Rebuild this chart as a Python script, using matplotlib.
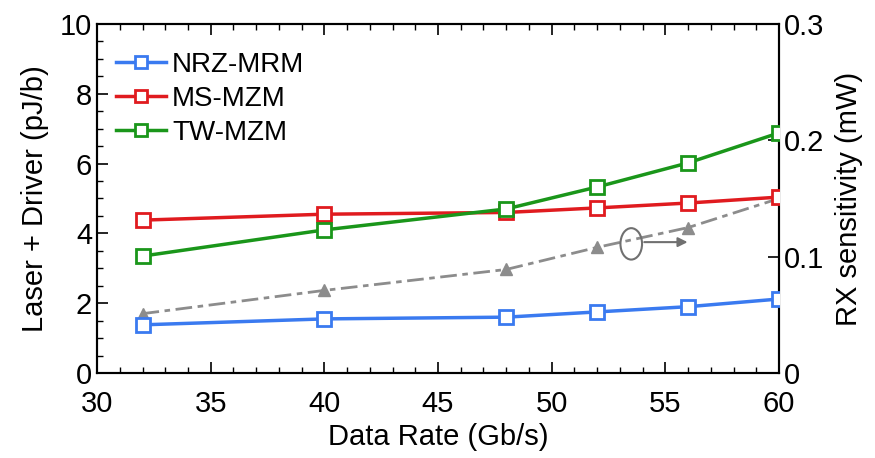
import matplotlib.pyplot as plt
from matplotlib.patches import Ellipse
from matplotlib.ticker import MultipleLocator

plt.rcParams["font.family"] = ["Liberation Sans", "DejaVu Sans"]

rates = [32, 40, 48, 52, 56, 60]
nrz_mrm = [1.38, 1.55, 1.60, 1.75, 1.90, 2.12]
ms_mzm = [4.38, 4.55, 4.60, 4.73, 4.87, 5.04]
tw_mzm = [3.35, 4.10, 4.70, 5.33, 6.02, 6.88]
rx_sens = [0.051, 0.071, 0.089, 0.108, 0.125, 0.150]
rx_ticks = [0, 0.1, 0.2, 0.3]
rx_labels = ["0", "0.1", "0.2", "0.3"]

fig = plt.figure(figsize=(8.75, 4.58), dpi=100)
ax = fig.add_axes([0.1109, 0.1856, 0.7794, 0.762])
ax2 = ax.twinx()

ax2.plot(rates, rx_sens, color="#8c8c8c", lw=2, ls=(0, (6, 2, 2, 2)),
         marker="^", ms=8, zorder=2)

series = [
    ("NRZ-MRM", nrz_mrm, "#3a7af0"),
    ("MS-MZM", ms_mzm, "#e01b1f"),
    ("TW-MZM", tw_mzm, "#1a961a"),
]
for label, vals, col in series:
    ax.plot(rates, vals, color=col, lw=2.5, marker="s", ms=10, mfc="white",
            mec=col, mew=2, label=label, zorder=3)

ax.set_zorder(ax2.get_zorder() + 1)
ax.patch.set_visible(False)

# ellipse + arrow pointing to right axis
ax.add_patch(Ellipse((53.5, 3.7), 0.95, 0.9, fill=False, ec="#707070", lw=1.5))
ax.annotate("", xy=(56.1, 3.75), xytext=(53.95, 3.75),
            arrowprops=dict(arrowstyle="-|>", color="#707070", lw=1.5,
                            mutation_scale=14))

ax.set_xlim(30, 60)
ax.set_ylim(0, 10)
ax2.set_ylim(0, 0.3)
ax.xaxis.set_major_locator(MultipleLocator(5))
ax.xaxis.set_minor_locator(MultipleLocator(1))
ax.yaxis.set_major_locator(MultipleLocator(2))
ax.yaxis.set_minor_locator(MultipleLocator(0.5))
ax2.set_yticks(rx_ticks)
ax2.set_yticklabels(rx_labels)

ax.tick_params(which="both", direction="in", top=True, labelsize=21)
ax.tick_params(axis="x", pad=12)
ax.tick_params(which="major", length=8, width=1.2)
ax.tick_params(which="minor", length=4, width=1)
ax2.tick_params(which="both", direction="in", labelsize=21)
ax2.tick_params(which="major", length=8, width=1.2)

for a in (ax, ax2):
    for s in a.spines.values():
        s.set_linewidth(1.5)

ax.set_xlabel("Data Rate (Gb/s)", fontsize=21, labelpad=4)
ax.set_ylabel("Laser + Driver (pJ/b)", fontsize=21, labelpad=8)
ax2.set_ylabel("RX sensitivity (mW)", fontsize=21, labelpad=8)

ax.legend(loc="upper left", frameon=False, fontsize=20, handlelength=1.8,
          handletextpad=0.2, labelspacing=0.28, borderaxespad=0.3,
          bbox_to_anchor=(0.0, 0.975), markerscale=0.9)

fig.savefig("out.png", dpi=100)
